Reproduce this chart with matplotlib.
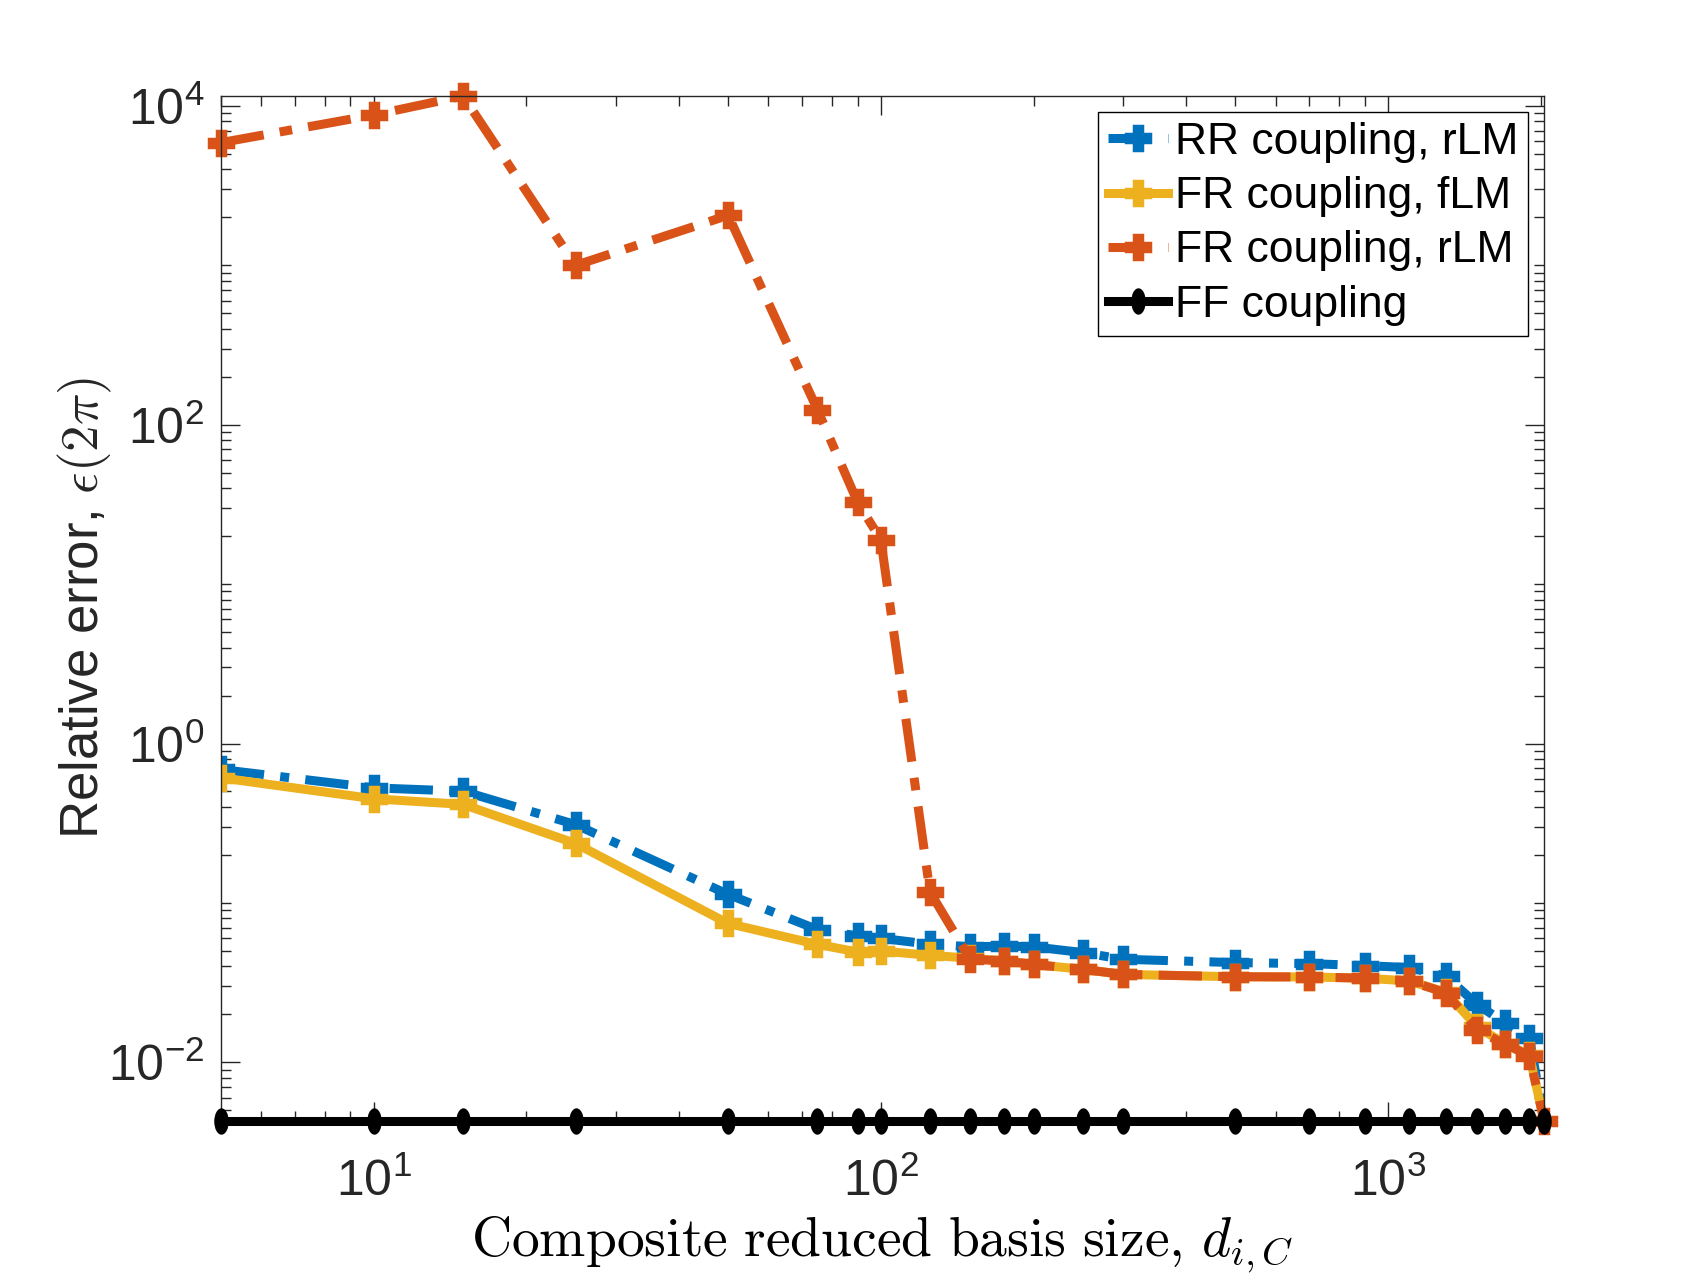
import numpy as np
import matplotlib
matplotlib.use("Agg")
import matplotlib.pyplot as plt
from matplotlib.path import Path
from matplotlib.transforms import Affine2D
from matplotlib.ticker import LogLocator, NullFormatter

plt.rcParams['font.family'] = ['Liberation Sans', 'DejaVu Sans']
plt.rcParams['mathtext.fontset'] = 'cm'

# composite reduced basis size
basis_size = [5, 10, 15, 25, 50, 75, 90, 100, 125, 150, 175, 200, 250, 300,
              500, 700, 900, 1100, 1300, 1500, 1700, 1900, 2030]

ff_level = 4.3e-3

err_rr_rlm = [0.687, 0.527, 0.502, 0.310, 0.113, 0.068, 0.062, 0.060, 0.055,
              0.053, 0.0536, 0.053, 0.0488, 0.0443, 0.0422, 0.0416, 0.0404,
              0.0393, 0.0347, 0.0230, 0.0177, 0.0143, ff_level]
err_fr_flm = [0.609, 0.450, 0.415, 0.236, 0.0743, 0.0549, 0.0492, 0.0499,
              0.0469, 0.0450, 0.0432, 0.0411, 0.0383, 0.0356, 0.0344, 0.0343,
              0.0337, 0.0324, 0.0275, 0.0166, 0.0131, 0.0111, ff_level]
err_fr_rlm = [5890, 8780, 11550, 1000, 2060, 124, 32.6, 19.0, 0.117, 0.0444,
              0.0432, 0.0411, 0.0383, 0.0356, 0.0344, 0.0343, 0.0337, 0.0324,
              0.0273, 0.0159, 0.0130, 0.0110, ff_level]
err_ff = [ff_level] * len(basis_size)

labels = ["RR coupling, rLM", "FR coupling, fLM", "FR coupling, rLM", "FF coupling"]

blue = (0.0, 0.447, 0.741)
orange = (0.85, 0.325, 0.098)
yellow = (0.929, 0.694, 0.125)
axcol = (0.15, 0.15, 0.15)

W, H = 1706, 1278
fig = plt.figure(figsize=(W / 100, H / 100), dpi=100)
left, right, top, bottom = 221, 1544, 96, 1120.7
ax = fig.add_axes([left / W, 1 - bottom / H, (right - left) / W, (bottom - top) / H])

# MATLAB-ish dot marker: tall ellipse
dot = Path.unit_circle().transformed(Affine2D().scale(0.55, 1.0))

lw = 6.5
mk = dict(marker='P', ms=17, mew=2.5)
ax.plot(basis_size, err_rr_rlm, color=blue, lw=lw, ls=(0, (4.8, 1.8, 1.0, 1.8)),
        mec=blue, label=labels[0], **mk)
ax.plot(basis_size, err_fr_flm, color=yellow, lw=lw, ls='-',
        mec=yellow, label=labels[1], **mk)
ax.plot(basis_size, err_fr_rlm, color=orange, lw=lw, ls=(0, (4.8, 1.8, 1.4, 1.8)),
        mec=orange, label=labels[2], clip_on=False, **mk)
ax.plot(basis_size, err_ff, color='black', lw=6.5, ls='-',
        marker=dot, ms=19, mec='black', mew=0, label=labels[3], clip_on=False,
        zorder=5)

ax.set_xscale('log')
ax.set_yscale('log')
ax.set_xlim(min(basis_size), max(basis_size))
ax.set_ylim(ff_level, max(err_fr_rlm))
ax.set_yticks([1e-2, 1e0, 1e2, 1e4])
ax.set_xticks([1e1, 1e2, 1e3])
for a in (ax.xaxis, ax.yaxis):
    a.set_minor_locator(LogLocator(base=10, subs=np.arange(1, 10), numticks=100))
    a.set_minor_formatter(NullFormatter())

ax.tick_params(which='both', direction='in', top=True, right=True,
               colors=axcol, width=1)
ax.tick_params(which='major', length=14, labelsize=36)
ax.tick_params(which='minor', length=7)
ax.tick_params(axis='x', which='major', pad=27)
ax.tick_params(axis='y', which='major', pad=12)
for s in ax.spines.values():
    s.set_color(axcol)
    s.set_linewidth(1.0)

ax.set_xlabel(r"$\mathrm{Composite\ reduced\ basis\ size,}\/d_{i,C}$",
              fontsize=40, labelpad=6)
ax.set_ylabel(r"Relative error, $\epsilon(2\pi)$", fontsize=38, labelpad=-4,
              color=axcol)

leg = ax.legend(loc='upper right', fontsize=32, frameon=True, fancybox=False,
                framealpha=1, edgecolor='black', borderaxespad=0.36,
                handlelength=1.35, handletextpad=0.16, labelspacing=0.3,
                borderpad=0.22)
leg.get_frame().set_linewidth(1.0)

fig.savefig("out.png", dpi=100)
